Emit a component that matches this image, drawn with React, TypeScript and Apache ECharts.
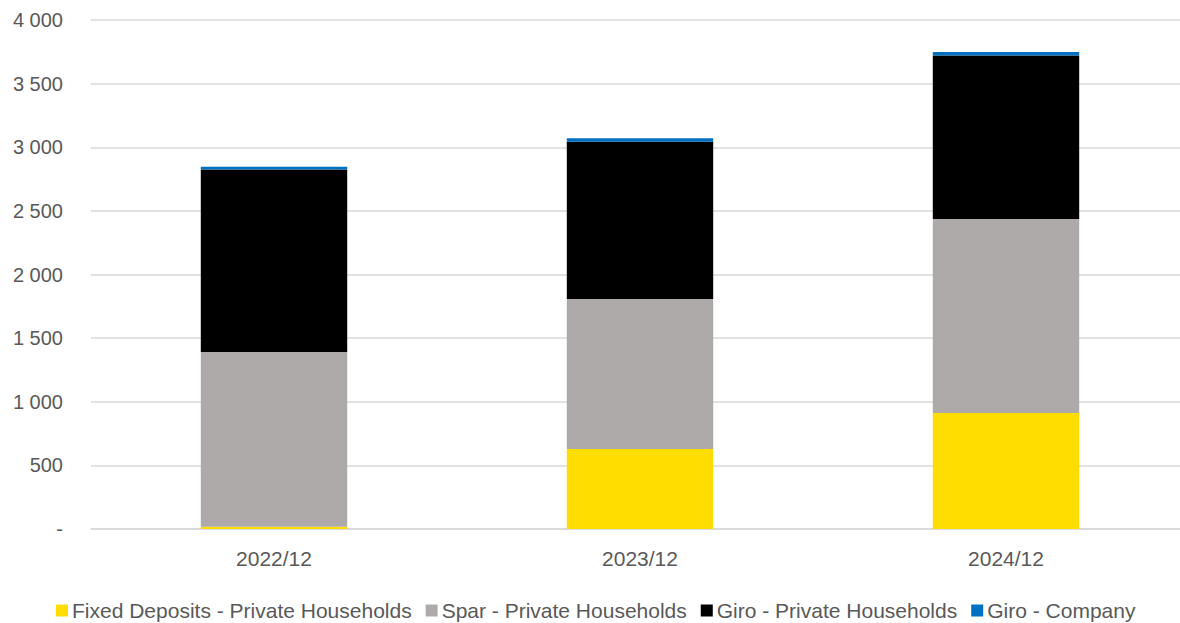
import React, { useEffect, useRef } from "react";
import * as echarts from "echarts";

const categories = ["2022/12", "2023/12", "2024/12"];
const fixedDeposits = [18, 629, 912];
const sparHouseholds = [1373, 1178, 1524];
const giroHouseholds = [1434, 1237, 1285];
const giroCompany = [22, 26, 28];
const seriesNames = [
  "Fixed Deposits - Private Households",
  "Spar - Private Households",
  "Giro - Private Households",
  "Giro - Company",
];
const colors = ["#FFDD00", "#AEAAAA", "#000000", "#0070C0"];

export default function App() {
  const ref = useRef<HTMLDivElement>(null);
  useEffect(() => {
    if (!ref.current) return;
    const chart = echarts.init(ref.current, undefined, { renderer: "svg" });
    const data = [fixedDeposits, sparHouseholds, giroHouseholds, giroCompany];
    chart.setOption({
      animation: false,
      backgroundColor: "#ffffff",
      grid: { left: 91, right: 11, top: 20, bottom: 94, containLabel: false },
      legend: {
        top: 600,
        left: 56,
        padding: 0,
        itemWidth: 12,
        itemHeight: 12,
        itemGap: 14,
        icon: "rect",
        textStyle: {
          fontFamily: "Liberation Sans, Arial, sans-serif",
          fontSize: 21,
          lineHeight: 21,
          color: "#595959",
          padding: [0, 0, 0, -1],
        },
        data: seriesNames,
      },
      xAxis: {
        type: "category",
        data: categories,
        axisLine: { lineStyle: { color: "#d9d9d9", width: 1.5 } },
        axisTick: { show: false },
        axisLabel: {
          color: "#595959",
          fontSize: 21,
          fontFamily: "Liberation Sans, Arial, sans-serif",
          margin: 19,
        },
      },
      yAxis: {
        type: "value",
        min: 0,
        max: 4000,
        interval: 500,
        axisLine: { show: false },
        axisTick: { show: false },
        splitLine: { lineStyle: { color: "#d9d9d9", width: 1.5 } },
        axisLabel: {
          color: "#595959",
          fontSize: 20,
          fontFamily: "Liberation Sans, Arial, sans-serif",
          margin: 28,
          formatter: (v: number) =>
            v === 0 ? "-" : v.toString().replace(/\B(?=(\d{3})+(?!\d))/g, " "),
        },
      },
      series: seriesNames.map((name, i) => ({
        name,
        type: "bar",
        stack: "total",
        barWidth: "40%",
        data: data[i],
        itemStyle: { color: colors[i] },
      })),
    });
    return () => chart.dispose();
  }, []);
  return (
    <div
      style={{
        position: "fixed",
        left: 0,
        top: 0,
        width: 1180,
        height: 623,
        overflow: "hidden",
        background: "#fff",
      }}
    >
      <div ref={ref} style={{ width: 1200, height: 623 }} />
    </div>
  );
}
